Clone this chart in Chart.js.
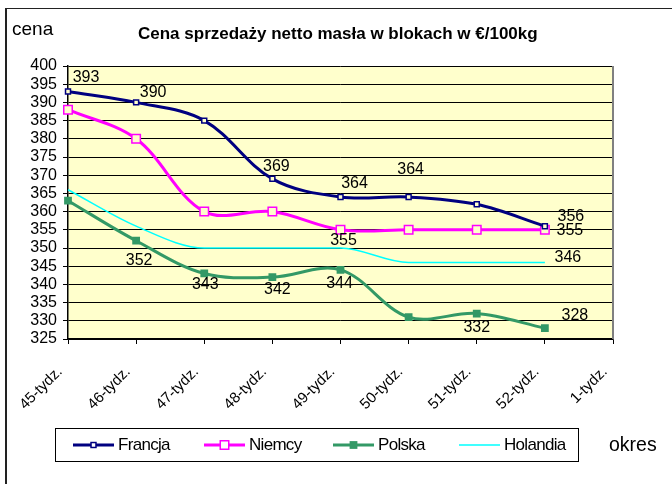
<!DOCTYPE html>
<html lang="pl">
<head>
<meta charset="utf-8">
<title>Cena sprzedaży netto masła w blokach</title>
<script src="https://cdn.jsdelivr.net/npm/chart.js@4.4.1/dist/chart.umd.min.js"></script>
<style>
  html, body { margin: 0; padding: 0; background: #fff; }
  body { width: 672px; height: 484px; position: relative; overflow: hidden; font-family: "Liberation Sans", Arial, sans-serif; color: #000; }
  #ramka { position: absolute; left: 5px; top: 8px; width: 700px; height: 500px; border-left: 2px solid #222; border-top: 1px solid #222; }
  #wykres { position: absolute; left: 0; top: 0; }
  .napis { position: absolute; white-space: nowrap; line-height: 1; }
  #tytul { left: 138px; top: 25px; font-size: 17px; font-weight: bold; }
  #cena { left: 12px; top: 19px; font-size: 19px; }
  #okres { left: 609px; top: 435px; font-size: 19.5px; }
  #legenda { position: absolute; left: 55px; top: 428px; width: 522px; height: 32px; border: 1px solid #000; background: #fff; }
  .poz { position: absolute; top: 0; height: 32px; display: flex; align-items: center; font-size: 17px; letter-spacing: -0.7px; }
  .poz svg { margin-right: 4px; }
</style>
</head>
<body>
<div id="ramka"></div>
<canvas id="wykres" width="672" height="484"></canvas>
<div class="napis" id="tytul">Cena sprzedaży netto masła w blokach w €/100kg</div>
<div class="napis" id="cena">cena</div>
<div class="napis" id="okres">okres</div>
<div id="legenda"></div>

<script>
// dane
const tygodnie = ['45-tydz.', '46-tydz.', '47-tydz.', '48-tydz.', '49-tydz.', '50-tydz.', '51-tydz.', '52-tydz.', '1-tydz.'];
const francja = [393, 390, 385, 369, 364, 364, 362, 356];
const niemcy = [388, 380, 360, 360, 355, 355, 355, 355];
const polska = [363, 352, 343, 342, 344, 331, 332, 328];
const holandia = [366, 356, 350, 350, 350, 346, 346, 346];
const osY = { min: 325, max: 400, krok: 5 };

// które punkty mają etykiety: [indeks, przesunięcie x, przesunięcie y]
const etykiety = {
    Francja: [[0, 18, -14], [1, 17, -10], [3, 4, -12], [4, 14, -13], [5, 2, -27], [7, 26, -10]],
    Niemcy: [[4, 3, 11], [7, 25, 1]],
    Polska: [[1, 3, 20], [2, 1, 11], [3, 5, 12], [4, -1, 14], [6, 0, 14], [7, 30, -12]],
    Holandia: [[7, 23, -5]]
};

const TLO = '#FFFFCC';
Chart.defaults.font.family = '"Liberation Sans", Arial, sans-serif';
Chart.defaults.color = '#000';

const tloWykresu = {
    id: 'tloWykresu',
    beforeDraw(chart) {
        const { ctx, chartArea: a } = chart;
        ctx.save();
        ctx.fillStyle = TLO;
        ctx.fillRect(a.left, a.top, a.right - a.left, a.bottom - a.top);
        ctx.restore();
    },
    beforeDatasetsDraw(chart) {
        const { ctx, chartArea: a } = chart;
        ctx.save();
        ctx.strokeStyle = '#808080';
        ctx.lineWidth = 2;
        ctx.beginPath();
        ctx.moveTo(a.right, a.top);
        ctx.lineTo(a.right, a.bottom);
        ctx.stroke();
        ctx.restore();
    }
};

const opisyPunktow = {
    id: 'opisyPunktow',
    afterDatasetsDraw(chart) {
        const ctx = chart.ctx;
        ctx.save();
        ctx.font = '16px "Liberation Sans", Arial, sans-serif';
        ctx.fillStyle = '#000';
        ctx.textAlign = 'center';
        ctx.textBaseline = 'middle';
        chart.data.datasets.forEach((ds, di) => {
            const meta = chart.getDatasetMeta(di);
            (etykiety[ds.label] || []).forEach(([i, dx, dy]) => {
                const p = meta.data[i];
                ctx.fillText(Math.round(ds.data[i]), p.x + dx, p.y + dy);
            });
        });
        ctx.restore();
    }
};

const wykres = new Chart(document.getElementById('wykres'), {
    type: 'line',
    data: {
        labels: tygodnie,
        datasets: [
            { label: 'Francja', data: francja, borderColor: '#000080', borderWidth: 3, tension: 0.35,
              pointStyle: 'rect', pointRadius: 3.5, pointBorderWidth: 1.5, pointBorderColor: '#000080', pointBackgroundColor: TLO },
            { label: 'Niemcy', data: niemcy, borderColor: '#FF00FF', borderWidth: 3, tension: 0.35,
              pointStyle: 'rect', pointRadius: 6, pointBorderWidth: 1.5, pointBorderColor: '#FF00FF', pointBackgroundColor: TLO },
            { label: 'Polska', data: polska, borderColor: '#339966', borderWidth: 3, tension: 0.35,
              pointStyle: 'rect', pointRadius: 5.5, pointBorderWidth: 0, pointBorderColor: '#339966', pointBackgroundColor: '#339966' },
            { label: 'Holandia', data: holandia, borderColor: '#00FFFF', borderWidth: 1.5, cubicInterpolationMode: 'monotone',
              pointRadius: 0 }
        ]
    },
    options: {
        responsive: false,
        animation: false,
        events: [],
        layout: { padding: { top: 66, right: 59, bottom: 75, left: 0 } },
        plugins: { legend: { display: false }, title: { display: false }, tooltip: { enabled: false } },
        scales: {
            x: {
                offset: false,
                grid: { drawOnChartArea: false, color: '#000', tickLength: 5 },
                border: { color: '#000', width: 1.5 },
                ticks: { autoSkip: false, minRotation: 45, maxRotation: 45, padding: 19, labelOffset: -8, font: { size: 15 } },
                afterFit: s => { s.height = 70; s.paddingLeft = 0; s.paddingRight = 0; }
            },
            y: {
                min: osY.min, max: osY.max,
                grid: { color: '#000', lineWidth: 1, tickLength: 5 },
                border: { color: '#000', width: 1.5 },
                ticks: { stepSize: osY.krok, autoSkip: false, padding: 6, font: { size: 16 } },
                afterFit: s => { s.width = 68; s.paddingTop = 0; s.paddingBottom = 0; }
            }
        }
    },
    plugins: [tloWykresu, opisyPunktow]
});

// legenda w ramce, budowana z ustawień serii
const pozycjeLegendy = [17, 148, 277, 403];
const legenda = document.getElementById('legenda');
wykres.data.datasets.forEach((ds, i) => {
    let znak = '';
    if (ds.pointRadius > 0) {
        const bok = ds.pointRadius * Math.SQRT2;
        const fill = ds.pointBorderWidth ? '#fff' : ds.pointBackgroundColor;
        znak = `<rect x="${20.5 - bok / 2}" y="${7 - bok / 2}" width="${bok}" height="${bok}" fill="${fill}" stroke="${ds.pointBorderColor}" stroke-width="${ds.pointBorderWidth}"/>`;
    }
    const el = document.createElement('div');
    el.className = 'poz';
    el.style.left = pozycjeLegendy[i] + 'px';
    el.innerHTML = `<svg width="41" height="14"><line x1="0" y1="7" x2="41" y2="7" stroke="${ds.borderColor}" stroke-width="${ds.borderWidth}"/>${znak}</svg><span>${ds.label}</span>`;
    legenda.appendChild(el);
});
</script>
</body>
</html>
